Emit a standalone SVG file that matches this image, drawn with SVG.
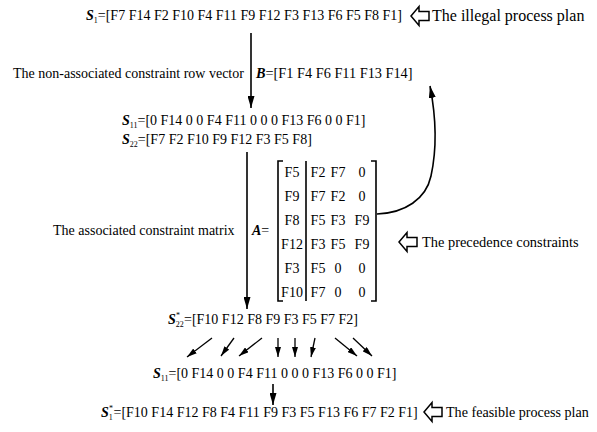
<svg xmlns="http://www.w3.org/2000/svg" width="597" height="432" viewBox="0 0 597 432">
<style>
text{font-family:"Liberation Serif","Times New Roman",serif;font-size:14px;fill:#000}
.v{font-weight:bold;font-style:italic}
.s{font-size:8px}
.m{text-anchor:middle}
.ln{stroke:#000;stroke-width:1.6;fill:none}
.sm{stroke:#000;stroke-width:1.3;fill:none}
.ha{fill:#fff;stroke:#000;stroke-width:1.5}
.br{stroke:#000;stroke-width:1.6;fill:none}
</style>
<defs>
<marker id="ah" viewBox="0 0 12 7" refX="12" refY="3.5" markerWidth="12" markerHeight="7" markerUnits="userSpaceOnUse" orient="auto"><path d="M0,0 L12,3.5 L0,7 Z" fill="#000"/></marker>
<marker id="as" viewBox="0 0 10 6" refX="10" refY="3" markerWidth="10" markerHeight="6" markerUnits="userSpaceOnUse" orient="auto"><path d="M0,0 L10,3 L0,6 Z" fill="#000"/></marker>
</defs>

<g id="connectors">
<path class="ln" d="M251,33 V108" marker-end="url(#ah)"/>
<path class="ln" d="M247,152 V309" marker-end="url(#ah)"/>
<path class="ln" d="M273,384 V405" marker-end="url(#ah)"/>
<path class="ln" d="M377,214 C405,213 426,199 431,176 C436,153 437,122 430,86" marker-end="url(#ah)"/>
<path class="sm" d="M212,338 L187,357" marker-end="url(#as)"/>
<path class="sm" d="M234,338 L221,356" marker-end="url(#as)"/>
<path class="sm" d="M262,338 L239,356" marker-end="url(#as)"/>
<path class="sm" d="M278,338 L278,357" marker-end="url(#as)"/>
<path class="sm" d="M295,338 L295,357" marker-end="url(#as)"/>
<path class="sm" d="M315,338 L311,357" marker-end="url(#as)"/>
<path class="sm" d="M335,338 L357,356" marker-end="url(#as)"/>
<path class="sm" d="M353,338 L372,356" marker-end="url(#as)"/>
</g>

<g id="s1">
<text x="86" y="20"><tspan class="v">S</tspan><tspan class="s" dy="3">1</tspan><tspan dy="-3">=[F7 F14 F2 F10 F4 F11 F9 F12 F3 F13 F6 F5 F8 F1]</tspan></text>
</g>
<g id="illegal">
<path class="ha" d="M411,16 l8,-9.5 v5 h10 v9 h-10 v5 z"/>
<text x="432" y="21" style="font-size:16px">The illegal process plan</text>
</g>

<g id="rowvector">
<text x="13" y="78">The non-associated constraint row vector</text>
<text x="256" y="78" style="font-size:14.3px"><tspan class="v">B</tspan>=[F1 F4 F6 F11 F13 F14]</text>
</g>

<g id="s11">
<text x="122" y="125"><tspan class="v">S</tspan><tspan class="s" dy="3">11</tspan><tspan dy="-3">=[0 F14 0 0 F4 F11 0 0 0 F13 F6 0 0 F1]</tspan></text>
</g>
<g id="s22">
<text x="122" y="144"><tspan class="v">S</tspan><tspan class="s" dy="3">22</tspan><tspan dy="-3">=[F7 F2 F10 F9 F12 F3 F5 F8]</tspan></text>
</g>

<g id="matrixA">
<text x="53" y="235">The associated constraint matrix</text>
<text x="252" y="235"><tspan class="v">A</tspan>=</text>
<path class="br" d="M283,161 H278 V301 H283"/>
<path class="br" d="M306,161 V301"/>
<path class="br" d="M371,161 H376 V301 H371"/>
<text x="292" y="177" class="m">F5</text><text x="318" y="177" class="m">F2</text><text x="338" y="177" class="m">F7</text><text x="362" y="177" class="m">0</text>
<text x="292" y="201" class="m">F9</text><text x="318" y="201" class="m">F7</text><text x="338" y="201" class="m">F2</text><text x="362" y="201" class="m">0</text>
<text x="292" y="225" class="m">F8</text><text x="318" y="225" class="m">F5</text><text x="338" y="225" class="m">F3</text><text x="362" y="225" class="m">F9</text>
<text x="292" y="249" class="m">F12</text><text x="318" y="249" class="m">F3</text><text x="338" y="249" class="m">F5</text><text x="362" y="249" class="m">F9</text>
<text x="292" y="273" class="m">F3</text><text x="318" y="273" class="m">F5</text><text x="338" y="273" class="m">0</text><text x="362" y="273" class="m">0</text>
<text x="292" y="297" class="m">F10</text><text x="318" y="297" class="m">F7</text><text x="338" y="297" class="m">0</text><text x="362" y="297" class="m">0</text>
</g>

<g id="precedence">
<path class="ha" d="M399,242 l8,-9.5 v5 h10 v9 h-10 v5 z"/>
<text x="422" y="247" style="font-size:14.4px">The precedence constraints</text>
</g>

<g id="s22star">
<text x="168" y="324"><tspan class="v">S</tspan><tspan class="s" dy="3">22</tspan><tspan class="s" x="176" dy="-9">*</tspan><tspan x="184" dy="6">=[F10 F12 F8 F9 F3 F5 F7 F2]</tspan></text>
</g>

<g id="s11b">
<text x="153" y="378"><tspan class="v">S</tspan><tspan class="s" dy="3">11</tspan><tspan dy="-3">=[0 F14 0 0 F4 F11 0 0 0 F13 F6 0 0 F1]</tspan></text>
</g>

<g id="s1star">
<text x="101" y="417"><tspan class="v">S</tspan><tspan class="s" dy="3">1</tspan><tspan class="s" x="109" dy="-9">*</tspan><tspan x="113.5" dy="6">=[F10 F14 F12 F8 F4 F11 F9 F3 F5 F13 F6 F7 F2 F1]</tspan></text>
</g>
<g id="feasible">
<path class="ha" d="M424,412 l8,-9.5 v5 h10 v9 h-10 v5 z"/>
<text x="446" y="417" style="font-size:14.1px">The feasible process plan</text>
</g>
</svg>
